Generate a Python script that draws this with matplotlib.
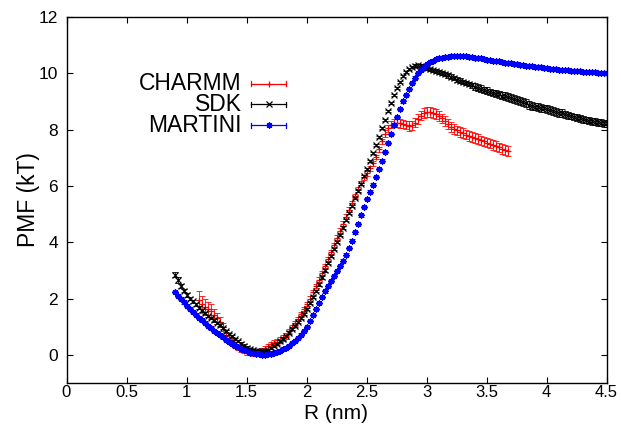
import numpy as np
import matplotlib
matplotlib.use("Agg")
import matplotlib.pyplot as plt
from matplotlib.lines import Line2D

plt.rcParams["font.family"] = ["Liberation Sans", "DejaVu Sans"]

# ── Data (0.025 nm steps) ────────────────────────────────────────────────────
STEP = 0.025

sdk_r0 = 0.900
sdk_pmf = [
    2.85, 2.65, 2.45, 2.28, 2.12, 2.00, 1.90, 1.79, 1.68, 1.58,
    1.48, 1.39, 1.30, 1.22, 1.14, 1.05, 0.95, 0.85, 0.75, 0.66,
    0.57, 0.48, 0.40, 0.33, 0.26, 0.20, 0.16, 0.13, 0.12, 0.12,
    0.14, 0.18, 0.24, 0.31, 0.39, 0.48, 0.58, 0.68, 0.79, 0.91,
    1.03, 1.16, 1.30, 1.46, 1.63, 1.84, 2.05, 2.27, 2.50, 2.75,
    3.00, 3.25, 3.50, 3.75, 4.00, 4.26, 4.52, 4.78, 5.04, 5.30,
    5.56, 5.82, 6.08, 6.34, 6.60, 6.88, 7.16, 7.45, 7.75, 8.05,
    8.35, 8.65, 8.95, 9.22, 9.47, 9.70, 9.90, 10.05, 10.16, 10.23,
    10.27, 10.28, 10.26, 10.22, 10.18, 10.14, 10.11, 10.08, 10.05, 10.01,
    9.97, 9.93, 9.88, 9.83, 9.78, 9.74, 9.70, 9.66, 9.62, 9.57,
    9.53, 9.49, 9.45, 9.41, 9.38, 9.34, 9.30, 9.28, 9.25, 9.21,
    9.18, 9.15, 9.12, 9.08, 9.05, 9.01, 8.98, 8.93, 8.88, 8.85,
    8.82, 8.80, 8.78, 8.75, 8.72, 8.69, 8.66, 8.63, 8.60, 8.58,
    8.55, 8.51, 8.48, 8.45, 8.42, 8.40, 8.37, 8.34, 8.32, 8.30,
    8.28, 8.26, 8.25, 8.23, 8.22,
]
sdk_err = ([0.10, 0.10] + [0.06] * 8 + [0.04] * 70 + [0.06] * 10
           + [0.08] * 10 + [0.12] * 10 + [0.14] * 20 + [0.12] * 15)

martini_r0 = 0.900
martini_pmf = [
    2.22, 2.10, 1.98, 1.86, 1.75, 1.64, 1.53, 1.42, 1.32, 1.22,
    1.12, 1.03, 0.94, 0.86, 0.78, 0.70, 0.62, 0.54, 0.47, 0.40,
    0.33, 0.27, 0.21, 0.16, 0.12, 0.08, 0.05, 0.03, 0.02, 0.01,
    0.01, 0.02, 0.04, 0.07, 0.10, 0.15, 0.20, 0.26, 0.33, 0.41,
    0.50, 0.60, 0.72, 0.85, 1.00, 1.20, 1.42, 1.64, 1.85, 2.05,
    2.25, 2.44, 2.62, 2.80, 2.98, 3.16, 3.35, 3.56, 3.80, 4.06,
    4.35, 4.65, 4.95, 5.24, 5.53, 5.80, 6.05, 6.32, 6.60, 6.90,
    7.20, 7.52, 7.85, 8.15, 8.45, 8.73, 9.00, 9.24, 9.45, 9.66,
    9.85, 10.00, 10.12, 10.23, 10.32, 10.39, 10.45, 10.50, 10.53, 10.55,
    10.57, 10.59, 10.60, 10.61, 10.62, 10.62, 10.61, 10.60, 10.59, 10.58,
    10.56, 10.55, 10.53, 10.51, 10.49, 10.47, 10.45, 10.43, 10.42, 10.40,
    10.38, 10.37, 10.35, 10.33, 10.32, 10.30, 10.29, 10.27, 10.26, 10.25,
    10.24, 10.22, 10.21, 10.20, 10.18, 10.17, 10.16, 10.14, 10.13, 10.12,
    10.11, 10.10, 10.09, 10.08, 10.07, 10.07, 10.06, 10.05, 10.04, 10.04,
    10.03, 10.02, 10.01, 10.01, 10.00,
]
martini_err = [0.04] * 145

charmm_r0 = 1.100
charmm_pmf = [
    1.95, 1.80, 1.70, 1.62, 1.55, 1.42, 1.30, 1.18, 0.98, 0.78,
    0.60, 0.48, 0.36, 0.27, 0.20, 0.15, 0.11, 0.08, 0.07, 0.07,
    0.09, 0.14, 0.22, 0.30, 0.37, 0.42, 0.47, 0.53, 0.60, 0.68,
    0.85, 0.98, 1.12, 1.28, 1.45, 1.62, 1.80, 2.00, 2.22, 2.44,
    2.67, 2.91, 3.16, 3.41, 3.66, 3.91, 4.16, 4.41, 4.66, 4.91,
    5.16, 5.40, 5.64, 5.88, 6.10, 6.30, 6.45, 6.62, 6.80, 7.03,
    7.30, 7.58, 7.85, 8.05, 8.18, 8.24, 8.25, 8.22, 8.19, 8.16,
    8.12, 8.15, 8.25, 8.38, 8.50, 8.58, 8.62, 8.62, 8.60, 8.55,
    8.48, 8.40, 8.30, 8.20, 8.10, 8.03, 7.97, 7.92, 7.87, 7.82,
    7.78, 7.74, 7.70, 7.66, 7.62, 7.58, 7.54, 7.50, 7.46, 7.42,
    7.37, 7.32, 7.27, 7.24,
]
charmm_err = ([0.32, 0.30, 0.28, 0.26, 0.25, 0.22, 0.20, 0.18, 0.15, 0.12]
              + [0.10] * 20 + [0.08] * 30
              + [0.10, 0.10, 0.12, 0.12, 0.14, 0.14, 0.14, 0.15, 0.15, 0.15]
              + [0.17] * 34)

x_ticks = [0, 0.5, 1, 1.5, 2, 2.5, 3, 3.5, 4, 4.5]
x_tick_labels = ["0", "0.5", "1", "1.5", "2", "2.5", "3", "3.5", "4", "4.5"]
y_ticks = [0, 2, 4, 6, 8, 10, 12]

RED = "#ff0000"
BLACK = "#000000"
BLUE = "#0000ff"
STAR = (8, 2, 0)


def grid(r0, values):
    return r0 + STEP * np.arange(len(values))


# ── Figure ───────────────────────────────────────────────────────────────────
fig = plt.figure(figsize=(6.21, 4.28), dpi=100)
# axes box: x 66.5..606.5 px, y 17..383 px
ax = fig.add_axes([66.5 / 621, 45 / 428, 540 / 621, 366 / 428])

series = [
    (grid(charmm_r0, charmm_pmf), charmm_pmf, charmm_err, RED, "+", "CHARMM"),
    (grid(sdk_r0, sdk_pmf), sdk_pmf, sdk_err, BLACK, "x", "SDK"),
    (grid(martini_r0, martini_pmf), martini_pmf, martini_err, BLUE, STAR, "MARTINI"),
]
for r, pmf, err, col, mk, lab in series:
    ax.errorbar(r, pmf, yerr=err, fmt="none", ecolor=col, elinewidth=0.7,
                capsize=2, capthick=0.7, alpha=0.85)
    ax.plot(r, pmf, linestyle="none", marker=mk, markersize=4.5,
            markeredgewidth=0.9, color=col)

ax.set_xlim(0, 4.5)
ax.set_ylim(-1, 12)
ax.set_xticks(x_ticks)
ax.set_xticklabels(x_tick_labels)
ax.set_yticks(y_ticks)
ax.tick_params(direction="in", length=4, width=0.8, top=True, right=True,
               labelsize=12.5)
ax.tick_params(axis="x", labelsize=12, pad=1.5)
ax.tick_params(axis="y", pad=6)
for s in ax.spines.values():
    s.set_linewidth(1.0)

ax.set_xlabel("R (nm)", fontsize=15)
ax.xaxis.set_label_coords(0.5, -0.058)
ax.set_ylabel("PMF (kT)", fontsize=16.5)
ax.yaxis.set_label_coords(-0.05, 0.5)

# ── Gnuplot-style key (label, then errorbar sample) ──────────────────────────
key_y = [0.818, 0.761, 0.704]
x0, x1 = 0.3417, 0.4065
for (r, pmf, err, col, mk, lab), ky in zip(series, key_y):
    ax.text(0.325, ky, lab, transform=ax.transAxes, ha="right", va="center",
            fontsize=16.5)
    ax.add_line(Line2D([x0, x1], [ky, ky], transform=ax.transAxes,
                       color=col, linewidth=0.9))
    for xc in (x0, x1):
        ax.add_line(Line2D([xc, xc], [ky - 0.007, ky + 0.007],
                           transform=ax.transAxes, color=col, linewidth=0.9))
    ax.add_line(Line2D([(x0 + x1) / 2], [ky], transform=ax.transAxes,
                       color=col, marker=mk, markersize=4.5, markeredgewidth=0.9,
                       linestyle="none"))

fig.savefig("out.png", dpi=100, facecolor="white")
